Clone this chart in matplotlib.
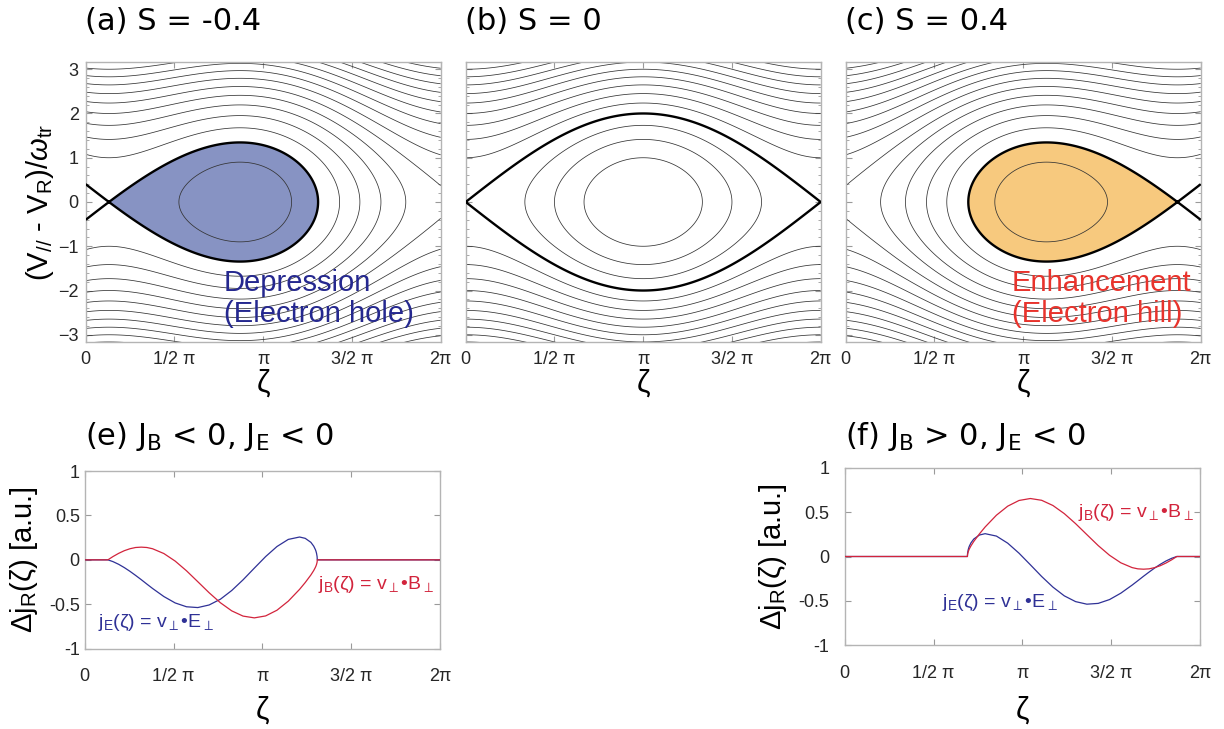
import numpy as np
import matplotlib
matplotlib.use("Agg")
import matplotlib.pyplot as plt
from matplotlib.ticker import MultipleLocator

plt.rcParams['font.family'] = ['Liberation Sans', 'DejaVu Sans']
plt.rcParams['mathtext.fontset'] = 'custom'
plt.rcParams['mathtext.rm'] = 'Liberation Sans'
plt.rcParams['mathtext.it'] = 'Liberation Sans:italic'
plt.rcParams['mathtext.bf'] = 'Liberation Sans:bold'
plt.rcParams['contour.negative_linestyle'] = 'solid'

# ---- phase-space panels -------------------------------------------------
S_values = [-0.4, 0.0, 0.4]
phase_titles = ['(a) S = -0.4', '(b) S = 0', '(c) S = 0.4']
level_step = 0.5          # spacing of trajectory contours (relative to separatrix)

zeta_ticks = [0, np.pi / 2, np.pi, 3 * np.pi / 2, 2 * np.pi]
zeta_ticklabels = ['0', '1/2 π', 'π', '3/2 π', '2π']
v_ticks = [-3, -2, -1, 0, 1, 2, 3]
j_ticks = [-1, -0.5, 0, 0.5, 1]
j_ticklabels = ['-1', '-0.5', '0', '0.5', '1']

# ---- resonant current profiles, S = -0.4 (hole) ------------------------
zeta_e = [0, 0.41, 0.5, 0.6, 0.7, 0.8, 0.9, 1.0, 1.1, 1.2, 1.4, 1.6, 1.8, 2.0,
          2.2, 2.4, 2.6, 2.8, 3.0, 3.2, 3.4, 3.6, 3.8, 3.9, 4.0, 4.05, 4.08,
          4.09, 4.10, 4.11, 4.113, 6.283]
jB_e = [0, 0, 0.037, 0.073, 0.103, 0.125, 0.139, 0.143, 0.139, 0.125, 0.071,
        -0.014, -0.123, -0.246, -0.370, -0.483, -0.574, -0.633, -0.653, -0.631,
        -0.567, -0.465, -0.332, -0.255, -0.170, -0.120, -0.084, -0.069, -0.051,
        -0.025, 0, 0]
jE_e = [0, 0, -0.020, -0.050, -0.087, -0.129, -0.175, -0.223, -0.273, -0.322,
        -0.413, -0.485, -0.528, -0.537, -0.508, -0.443, -0.345, -0.225, -0.093,
        0.037, 0.150, 0.230, 0.257, 0.242, 0.197, 0.154, 0.115, 0.097, 0.073,
        0.036, 0, 0]

# ---- resonant current profiles, S = +0.4 (hill) ------------------------
zeta_f = [0, 2.170, 2.173, 2.183, 2.193, 2.203, 2.233, 2.283, 2.383, 2.483,
          2.683, 2.883, 3.083, 3.283, 3.483, 3.683, 3.883, 4.083, 4.283, 4.483,
          4.683, 4.883, 5.083, 5.183, 5.283, 5.383, 5.483, 5.583, 5.683, 5.783,
          5.873, 6.283]
jB_f = [0, 0, 0.025, 0.051, 0.069, 0.084, 0.120, 0.170, 0.255, 0.332, 0.465,
        0.567, 0.631, 0.653, 0.633, 0.574, 0.483, 0.370, 0.246, 0.123, 0.014,
        -0.071, -0.125, -0.139, -0.143, -0.139, -0.125, -0.103, -0.073, -0.037,
        0, 0]
jE_f = [0, 0, 0.036, 0.073, 0.097, 0.115, 0.154, 0.197, 0.242, 0.257, 0.230,
        0.150, 0.037, -0.093, -0.225, -0.345, -0.443, -0.508, -0.537, -0.528,
        -0.485, -0.413, -0.322, -0.273, -0.223, -0.175, -0.129, -0.087, -0.050,
        -0.020, 0, 0]

RED = '#d2243c'
BLUE = '#2f3196'
SPINE = '#b4b4b4'
TXT = '#262626'
TITLE_FONT = ['DejaVu Sans']

W, H = 1224, 729
fig = plt.figure(figsize=(W / 100, H / 100), dpi=100)


def px_axes(left, top, right, bottom):
    return fig.add_axes([left / W, 1 - bottom / H, (right - left) / W, (bottom - top) / H])


def style_axes(ax, xpad, ypad):
    for sp in ax.spines.values():
        sp.set_color(SPINE)
        sp.set_linewidth(1.0)
    ax.tick_params(which='both', direction='in', top=True, right=True,
                   color='#9a9a9a', labelcolor=TXT, labelsize=13)
    ax.tick_params(which='major', length=4, width=0.8)
    ax.tick_params(which='minor', length=2, width=0.6)
    ax.tick_params(axis='x', pad=xpad)
    ax.tick_params(axis='y', pad=ypad)
    ax.set_xlim(0, 2 * np.pi)
    ax.set_xticks(zeta_ticks)
    ax.set_xticklabels(zeta_ticklabels)


# phase-space grid
zz = np.linspace(0, 2 * np.pi, 900)
vv = np.linspace(-3.5, 3.5, 900)
Z, V = np.meshgrid(zz, vv)

phase_left = [85.7, 465.7, 845.7]
for i, S in enumerate(S_values):
    x0 = phase_left[i]
    top, bot = 61.7, 342.3
    ax = px_axes(x0, top, x0 + 355, bot)
    style_axes(ax, xpad=6, ypad=5)

    Ham = V ** 2 / 2 + np.cos(Z) - S * Z
    # X-point of the tilted pendulum potential
    if S <= 0:
        zx = np.arcsin(-S)
    else:
        zx = 2 * np.pi - np.arcsin(S)
    Hx = np.cos(zx) - S * zx

    levels = Hx + level_step * np.arange(-4, 22)
    levels = levels[levels != Hx]

    if S != 0:
        # shade the trapped region enclosed by the separatrix
        Hfill = np.where((Z > zx) if S < 0 else (Z < zx), Ham, np.nan)
        color = '#8793c3' if S < 0 else '#f7c97e'
        ax.contourf(Z, V, Hfill, levels=[Ham.min() - 1, Hx], colors=[color], zorder=1)

    ax.contour(Z, V, Ham, levels=np.sort(levels), colors='#333333',
               linewidths=0.55, zorder=2)
    ax.contour(Z, V, Ham, levels=[Hx], colors='black', linewidths=1.7, zorder=3)

    ax.set_ylim(-3.17, 3.17)
    ax.set_yticks(v_ticks)
    ax.yaxis.set_minor_locator(MultipleLocator(0.2))
    if i > 0:
        ax.set_yticklabels([])
    else:
        ax.text(-0.129, 0.5, r'(V$_{//}$ - V$_\mathrm{R}$)/$\omega_\mathrm{tr}$',
                transform=ax.transAxes, rotation=90, ha='center', va='center',
                fontsize=21, color='black')

    ax.text(0.5, -(369 - bot) / (bot - top), 'ζ', transform=ax.transAxes,
            ha='center', va='top', fontsize=22)
    fig.text((x0 - 1) / W, 1 - 30 / H, phase_titles[i], fontsize=22,
             family=TITLE_FONT, ha='left', va='baseline')

    if S < 0:
        ax.text(2.44, -2.18, 'Depression\n(Electron hole)', color='#25288f',
                fontsize=21, ha='left', va='center', linespacing=1.1, zorder=5)
    elif S > 0:
        ax.text(2.94, -2.18, 'Enhancement\n(Electron hill)', color='#e8332c',
                fontsize=21, ha='left', va='center', linespacing=1.1, zorder=5)

# ---- current panels ------------------------------------------------------
cur_panels = [
    (84.7, 471.0, 648.7, r'(e) J$_\mathregular{B}$ < 0, J$_\mathregular{E}$ < 0',
     zeta_e, jB_e, jE_e, 3.5, 24),
    (844.7, 467.7, 645.3, r'(f) J$_\mathregular{B}$ > 0, J$_\mathregular{E}$ < 0',
     zeta_f, jB_f, jE_f, 11, 773),
]
for k, (x0, top, bot, title, zeta, jb, je, ypad, ylab_x) in enumerate(cur_panels):
    ax = px_axes(x0, top, x0 + 355.3, bot)
    style_axes(ax, xpad=14, ypad=ypad)
    ax.plot(zeta, je, color=BLUE, lw=0.9, zorder=3)
    ax.plot(zeta, jb, color=RED, lw=0.9, zorder=4)
    ax.set_ylim(-1, 1)
    ax.set_yticks(j_ticks)
    ax.set_yticklabels(j_ticklabels)

    ax.text((ylab_x - x0) / 355.3, 0.5, r'$\Delta$j$_\mathrm{R}$(ζ) [a.u.]',
            transform=ax.transAxes, rotation=90, ha='center', va='center',
            fontsize=21)
    ax.text(0.5, -(696 - bot) / (bot - top), 'ζ', transform=ax.transAxes,
            ha='center', va='top', fontsize=22)
    fig.text((x0 + 0.5) / W, 1 - 445 / H, title, fontsize=22, family=TITLE_FONT,
             ha='left', va='baseline')

    if k == 0:
        ax.text(4.13, -0.28, r'j$_\mathrm{B}$(ζ) = v$_\perp$•B$_\perp$', color=RED,
                fontsize=14, ha='left', va='center')
        ax.text(0.24, -0.71, r'j$_\mathrm{E}$(ζ) = v$_\perp$•E$_\perp$', color=BLUE,
                fontsize=14, ha='left', va='center')
    else:
        ax.text(4.13, 0.49, r'j$_\mathrm{B}$(ζ) = v$_\perp$•B$_\perp$', color=RED,
                fontsize=14, ha='left', va='center')
        ax.text(1.715, -0.52, r'j$_\mathrm{E}$(ζ) = v$_\perp$•E$_\perp$', color=BLUE,
                fontsize=14, ha='left', va='center')

fig.savefig('out.png', dpi=100)
